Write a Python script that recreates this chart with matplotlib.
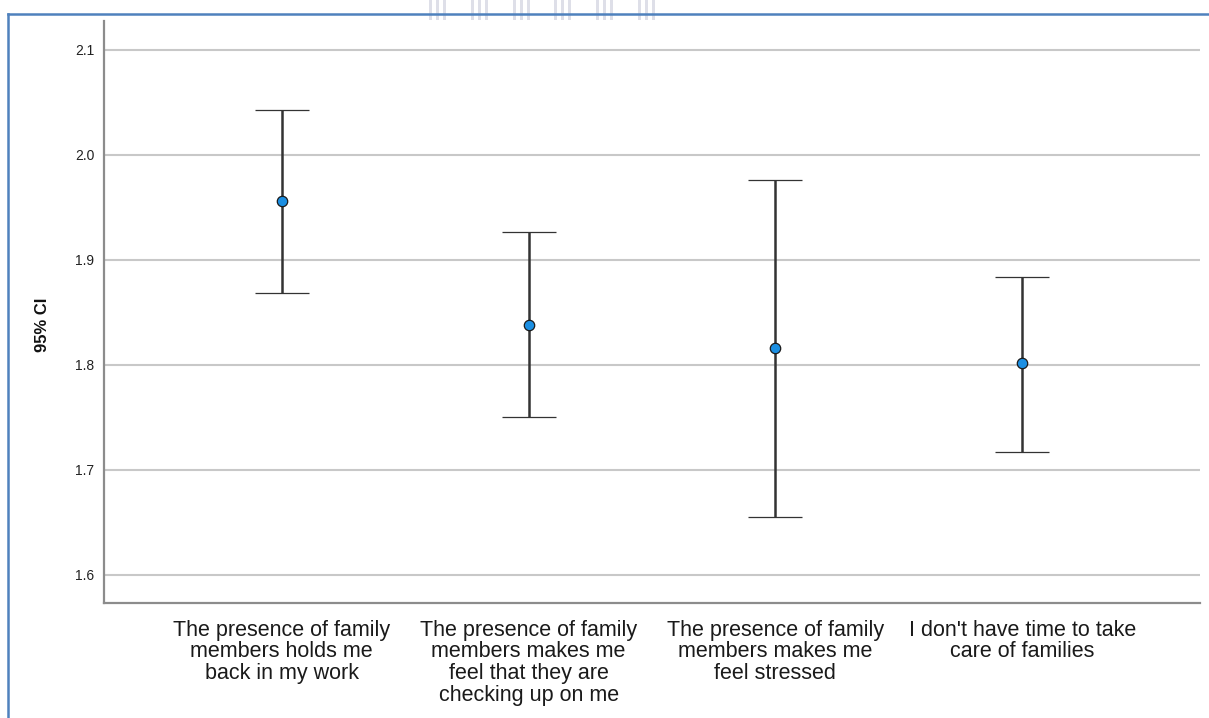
import matplotlib
matplotlib.use('Agg')
import matplotlib.pyplot as plt
import numpy as np
from matplotlib.lines import Line2D
from matplotlib.patches import Rectangle

plt.rcParams['font.family'] = ['Liberation Sans', 'DejaVu Sans']

categories = ['The presence of family\nmembers holds me\nback in my work',
              'The presence of family\nmembers makes me\nfeel that they are\nchecking up on me',
              'The presence of family\nmembers makes me\nfeel stressed',
              "I don't have time to take\ncare of families"]
means = np.array([1.956, 1.838, 1.816, 1.802])
ci_low = np.array([1.869, 1.750, 1.655, 1.717])
ci_high = np.array([2.043, 1.927, 1.976, 1.884])
yticks = [1.6, 1.7, 1.8, 1.9, 2.0, 2.1]

W, H = 1209, 718
fig = plt.figure(figsize=(W / 100, H / 100), dpi=100)

# axes box in pixel units
left, right, top, bottom = 104, 1200, 21, 603
ax = fig.add_axes([left / W, 1 - bottom / H, (right - left) / W, (bottom - top) / H])

x = np.arange(len(categories))
ax.errorbar(x, means, yerr=[means - ci_low, ci_high - means], fmt='o',
            color='#333333', ecolor='#333333', elinewidth=1.8, capsize=19.4,
            capthick=2.2, markersize=7.5, markerfacecolor='#1b8fe3',
            markeredgecolor='#1a1a1a', markeredgewidth=0.9, zorder=3)

ax.set_xlim(-0.72, 3.72)
ax.set_ylim(1.5733, 2.1276)
ax.set_yticks(yticks)
ax.set_yticklabels(['%.1f' % t for t in yticks], fontsize=10, color='#222222')
ax.set_xticks(x)
ax.set_xticklabels(categories, fontsize=15.5, color='#1a1a1a', linespacing=1.05)
ax.tick_params(axis='both', length=0)
ax.tick_params(axis='x', pad=12)
ax.tick_params(axis='y', pad=7)

ax.grid(axis='y', color='#c8c8c8', linewidth=1.5)
ax.set_axisbelow(True)
for side in ['top', 'right']:
    ax.spines[side].set_visible(False)
for side in ['left', 'bottom']:
    ax.spines[side].set_color('#8c8c8c')
    ax.spines[side].set_linewidth(1.6)

ax.set_ylabel('95% CI', fontsize=12, fontweight='bold', color='#111111')
ax.yaxis.set_label_coords(-0.049, 0.478)

# frame border on top and left
border = '#4f81bd'
fig.add_artist(Line2D([7.5 / W, 1.0], [1 - 13.5 / H, 1 - 13.5 / H],
                      color=border, linewidth=1.8, transform=fig.transFigure))
fig.add_artist(Line2D([7.5 / W, 7.5 / W], [1 - 13.5 / H, 0.0],
                      color=border, linewidth=1.8, transform=fig.transFigure))

# faint striped header marks
for gx in [428, 470, 512, 553, 595, 637]:
    for sx in [1, 8, 15]:
        fig.add_artist(Rectangle(((gx + sx) / W, 1 - 20 / H), 3 / W, 20 / H,
                                 transform=fig.transFigure, color='#c9cbd9',
                                 alpha=0.6, linewidth=0))

fig.savefig('out.png', dpi=100)
